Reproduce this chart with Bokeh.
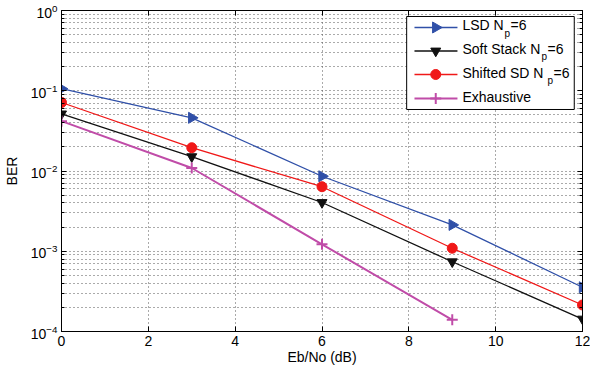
import numpy as np
from bokeh.plotting import figure
from bokeh.models import LogAxis, LinearAxis, FixedTicker, Range1d
from bokeh.core.properties import value
from bokeh.embed import file_html
from bokeh.resources import INLINE

# ---- data ----
snr = [0, 3, 6, 9, 12]
lsd = [0.106, 0.046, 0.0086, 0.00213, 0.000356]
soft_stack = [0.0515, 0.0151, 0.00405, 0.00074, 0.000143]
shifted_sd = [0.0714, 0.0195, 0.00637, 0.00109, 0.000214]
snr_exh = [0, 3, 6, 9]
exhaustive = [0.0418, 0.0109, 0.00122, 0.00014]

x_ticks = [0, 2, 4, 6, 8, 10, 12]
y_ticks = [1e-4, 1e-3, 1e-2, 1e-1, 1]
y_minor = [m * 10.0 ** e for e in range(-4, 0) for m in range(2, 10)]

legend_labels = [("LSD N", "p", "=6"), ("Soft Stack N", "p", "=6"),
                 ("Shifted SD N", "p", "=6"), ("Exhaustive", "", "")]

FONT = "Liberation Sans"
BLUE = "#3050a8"
BLACK = "#111111"
RED = "#f01818"
MAG = "#c04ca8"
GRID = "#555555"

p = figure(frame_width=521, frame_height=321, x_range=Range1d(0, 12), y_range=Range1d(1e-4, 1),
           y_axis_type="log", output_backend="svg", toolbar_location=None,
           min_border_left=54, min_border_right=8, min_border_top=10, min_border_bottom=30)
p.background_fill_color = "white"
p.border_fill_color = "white"
p.outline_line_color = "black"
p.outline_line_width = 1

# axes
p.xaxis.ticker = FixedTicker(ticks=x_ticks)
p.yaxis.ticker = FixedTicker(ticks=y_ticks, minor_ticks=y_minor)
for ax in [p.xaxis[0], p.yaxis[0]]:
    ax.major_tick_in = 5
    ax.major_tick_out = 0
    ax.minor_tick_in = 3
    ax.minor_tick_out = 0
    ax.axis_line_color = "black"
    ax.major_label_text_font = FONT
    ax.major_label_text_font_size = "14px"
    ax.major_label_text_color = "black"
    ax.axis_label_text_font = FONT
    ax.axis_label_text_font_size = "14px"
    ax.axis_label_text_font_style = "normal"
    ax.axis_label_text_color = "black"
p.xaxis.minor_tick_line_color = None
p.xaxis.axis_label = "Eb/No (dB)"
p.yaxis.axis_label = "BER"
p.xaxis.major_label_standoff = 4
p.xaxis.axis_label_standoff = 0
p.yaxis.major_label_standoff = 4
p.yaxis.axis_label_standoff = 8

top = LinearAxis(ticker=FixedTicker(ticks=x_ticks), major_label_overrides={t: "" for t in x_ticks},
                 major_label_standoff=0, major_tick_in=5, major_tick_out=0, minor_tick_line_color=None)
right = LogAxis(ticker=FixedTicker(ticks=y_ticks, minor_ticks=y_minor),
                major_label_overrides={t: "" for t in y_ticks}, major_label_standoff=0,
                major_tick_in=5, major_tick_out=0, minor_tick_in=3, minor_tick_out=0)
p.add_layout(top, "above")
p.add_layout(right, "right")

# grid
p.xgrid.ticker = FixedTicker(ticks=x_ticks)
p.ygrid.ticker = FixedTicker(ticks=y_ticks, minor_ticks=y_minor)
for g in [p.xgrid[0], p.ygrid[0]]:
    g.grid_line_color = GRID
    g.grid_line_dash = "1 3"
    g.grid_line_width = 1
p.ygrid.minor_grid_line_color = GRID
p.ygrid.minor_grid_line_dash = "1 3"

# data
p.line(snr, lsd, line_color=BLUE, line_width=1.3)
p.scatter(snr, lsd, marker="triangle", angle=-np.pi / 2, size=11, fill_color=BLUE, line_color=BLUE)
p.line(snr, soft_stack, line_color=BLACK, line_width=1.3)
p.scatter(snr, soft_stack, marker="inverted_triangle", size=10, fill_color=BLACK, line_color=BLACK)
p.line(snr, shifted_sd, line_color=RED, line_width=1.3)
p.scatter(snr, shifted_sd, marker="circle", size=10, fill_color=RED, line_color=RED)
p.line(snr_exh, exhaustive, line_color=MAG, line_width=2)
p.scatter(snr_exh, exhaustive, marker="cross", size=11, line_color=MAG, line_width=2)

# legend (drawn manually to allow subscripts)
leg_left, leg_right, leg_top, leg_bottom = 7.95, 11.81, 0.842, 0.0584
p.quad(left=[leg_left], right=[leg_right], top=[leg_top], bottom=[leg_bottom],
       fill_color="white", line_color="black", line_width=1)
rows_y = [0.614, 0.313, 0.1594, 0.080]
styles = [(BLUE, "triangle", -np.pi / 2, 11, 1.3), (BLACK, "inverted_triangle", 0, 10, 1.3),
          (RED, "circle", 0, 10, 1.3), (MAG, "cross", 0, 11, 2)]
lx0, lx1, lxm, tx = 8.13, 9.12, 8.62, 9.235
sub_off = [42, 79, 85, 0]
for (lab, sub, tail), ry, (col, mk, ang, sz, lw), so in zip(legend_labels, rows_y, styles, sub_off):
    p.line([lx0, lx1], [ry, ry], line_color=col, line_width=lw)
    if mk == "cross":
        p.scatter([lxm], [ry], marker=mk, size=sz, line_color=col, line_width=lw)
    else:
        p.scatter([lxm], [ry], marker=mk, angle=ang, size=sz, fill_color=col, line_color=col)
    p.text([tx], [ry], text=[lab], text_font=value(FONT), text_font_size="14px",
           text_baseline="middle", text_align="left", text_color="black", y_offset=-2)
    if sub:
        p.text([tx], [ry], text=[sub], text_font=value(FONT), text_font_size="10px",
               text_baseline="middle", text_align="left", text_color="black",
               x_offset=so, y_offset=6)
        p.text([tx], [ry], text=[tail], text_font=value(FONT), text_font_size="14px",
               text_baseline="middle", text_align="left", text_color="black",
               x_offset=so + 6, y_offset=-2)

open("out.html", "w").write(file_html(p, INLINE))
